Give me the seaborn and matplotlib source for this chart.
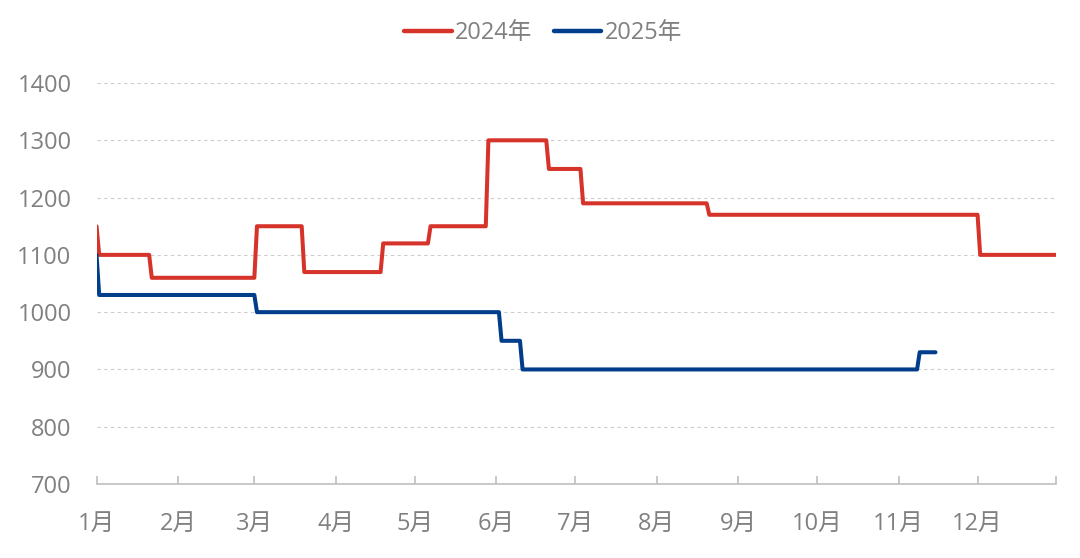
import numpy as np
import pandas as pd
import matplotlib.pyplot as plt
import seaborn as sns

# step points (month-day, value)
dates_2024 = ["01-01", "01-02", "01-21", "01-22", "03-01", "03-02", "03-19", "03-20",
              "04-18", "04-19", "05-06", "05-07", "05-28", "05-29", "06-20", "06-21",
              "07-03", "07-04", "08-20", "08-21", "12-01", "12-02", "12-31"]
values_2024 = [1150, 1100, 1100, 1060, 1060, 1150, 1150, 1070,
               1070, 1120, 1120, 1150, 1150, 1300, 1300, 1250,
               1250, 1190, 1190, 1170, 1170, 1100, 1100]

dates_2025 = ["01-01", "01-02", "03-01", "03-02", "06-02", "06-03",
              "06-10", "06-11", "11-08", "11-09", "11-15"]
values_2025 = [1100, 1030, 1030, 1000, 1000, 950,
               950, 900, 900, 930, 930]

month_labels = [f"{m}月" for m in range(1, 13)]
series_names = ["2024年", "2025年"]
colors = ["#D6332A", "#003D8A"]


def build_frame():
    rows = []
    for name, ds, vs in [(series_names[0], dates_2024, values_2024),
                         (series_names[1], dates_2025, values_2025)]:
        for d, v in zip(ds, vs):
            # both years drawn on a common calendar axis
            rows.append({"date": pd.Timestamp(f"2024-{d}"), "value": v, "year": name})
    return pd.DataFrame(rows)


def main():
    sns.set_theme(style="white")
    plt.rcParams["font.family"] = ["Open Sans", "Noto Sans CJK SC", "DejaVu Sans"]

    df = build_frame()
    fig = plt.figure(figsize=(10.8, 5.58), dpi=100)
    ax = fig.add_axes([0.0894, 0.1326, 0.8888, 0.7186])

    sns.lineplot(data=df, x="date", y="value", hue="year", palette=colors,
                 estimator=None, linewidth=2.9, ax=ax, legend=True)
    for ln in ax.lines:
        ln.set_solid_capstyle("round")
        ln.set_solid_joinstyle("round")

    ax.set_ylim(700, 1400)
    ax.set_yticks(np.arange(700, 1401, 100))
    ax.set_xlim(pd.Timestamp("2024-01-01"), pd.Timestamp("2024-12-31"))
    ticks = [pd.Timestamp(f"2024-{m:02d}-01") for m in range(1, 13)]
    ax.set_xticks(ticks)
    ax.set_xticklabels(month_labels)
    ax.set_xticks([pd.Timestamp("2024-12-31")], minor=True)
    ax.set_xlabel("")
    ax.set_ylabel("")

    ax.grid(axis="y", linestyle=(0, (3, 3)), color="#cccccc", linewidth=0.8)
    ax.grid(axis="x", visible=False)
    for s in ["left", "right", "top"]:
        ax.spines[s].set_visible(False)
    ax.spines["bottom"].set_color("#bfbfbf")
    ax.spines["bottom"].set_linewidth(1.2)
    ax.set_axisbelow(True)

    ax.tick_params(axis="x", which="both", direction="in", length=6, width=1.2,
                   color="#bfbfbf", bottom=True, pad=20, labelsize=17, labelcolor="#808080")
    ax.tick_params(axis="y", length=0, pad=18, labelsize=17, labelcolor="#808080")

    handles, labels = ax.get_legend_handles_labels()
    ax.get_legend().remove()
    leg = fig.legend(handles, labels, loc="center", bbox_to_anchor=(0.503, 0.941),
                     ncol=2, frameon=False, fontsize=17, handlelength=2.0,
                     handletextpad=0.15, columnspacing=0.9, labelcolor="#808080")
    for h in leg.get_lines():
        h.set_linewidth(3.2)
        h.set_solid_capstyle("round")

    plt.savefig("out.png", dpi=100)
    plt.close()


if __name__ == "__main__":
    main()
